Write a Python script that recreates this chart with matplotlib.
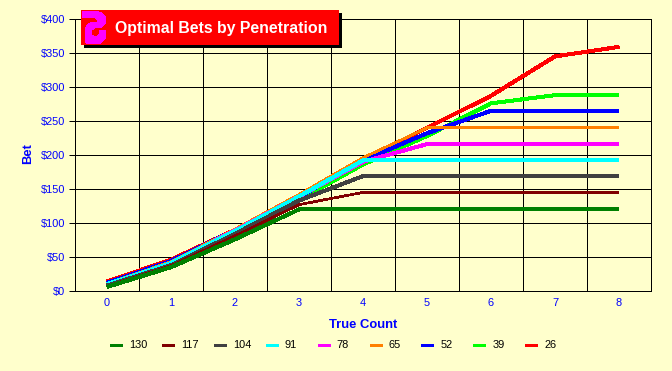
import matplotlib
matplotlib.use("Agg")
import matplotlib.pyplot as plt
from matplotlib.lines import Line2D
from matplotlib.patches import Polygon, Rectangle
from matplotlib.ticker import FuncFormatter
from matplotlib.transforms import Affine2D

plt.rcParams["font.family"] = ["Liberation Sans", "DejaVu Sans"]

BG = "#FFFFCC"
W, H = 672, 371

true_count = [0, 1, 2, 3, 4, 5, 6, 7, 8]
y_ticks = [0, 50, 100, 150, 200, 250, 300, 350, 400]

bet_130 = [6, 35, 76, 120, 120, 120, 120, 120, 120]
bet_117 = [7, 37, 81, 127, 145, 145, 145, 145, 145]
bet_104 = [8, 38, 84, 133, 169, 169, 169, 169, 169]
bet_91 = [10, 41, 88, 139, 192, 192, 192, 192, 192]
bet_78 = [10, 41, 89, 139, 190, 216, 216, 216, 216]
bet_65 = [11, 43, 91, 142, 196, 240, 240, 240, 240]
bet_52 = [12, 44, 90, 138, 192, 232, 265, 265, 265]
bet_39 = [9, 38, 86, 134, 186, 228, 276, 288, 288]
bet_26 = [14, 46, 90, 138, 193, 240, 287, 345, 359]

series = [
    ("130", bet_130, "#008000", 3),
    ("117", bet_117, "#800000", 1.7),
    ("104", bet_104, "#404040", 3),
    ("91", bet_91, "#00FFFF", 3),
    ("78", bet_78, "#FF00FF", 3),
    ("65", bet_65, "#FF8000", 1.7),
    ("52", bet_52, "#0000FF", 3),
    ("39", bet_39, "#00FF00", 3),
    ("26", bet_26, "#FF0000", 3),
]


def main():
    fig = plt.figure(figsize=(W / 100, H / 100), dpi=100, facecolor=BG)
    ax = fig.add_axes([75 / W, (H - 291) / H, 576 / W, 272 / H], facecolor=BG)

    # pixel coordinates with the origin top left, for the banner and legend
    px = Affine2D().scale(1, -1).translate(0, H)

    # last series goes down first, 130 ends up on top
    for name, values, color, width in reversed(series):
        ax.plot(true_count, values, color=color, lw=width * 0.72, aa=False,
                solid_capstyle="butt", solid_joinstyle="round", zorder=3)

    ax.set_xlim(-0.5, 8.5)
    ax.set_ylim(0, 400)
    ax.set_xticks(true_count)
    ax.set_xticks([c + 0.5 for c in true_count[:-1]], minor=True)
    ax.set_yticks(y_ticks)
    ax.yaxis.set_major_formatter(FuncFormatter(lambda v, pos: f"${v:.0f}"))

    ax.grid(True, which="major", axis="y", color="black", lw=0.72, aa=False, zorder=1)
    ax.grid(True, which="minor", axis="x", color="black", lw=0.72, aa=False, zorder=1)
    ax.set_axisbelow(True)

    ax.tick_params(axis="x", which="major", length=0, pad=5, labelsize=7.9, labelcolor="#0000FF")
    ax.tick_params(axis="x", which="minor", length=0)
    ax.tick_params(axis="y", length=4, width=0.72, pad=3, labelsize=7.9, labelcolor="#0000FF")

    for side in ["left", "bottom", "right", "top"]:
        ax.spines[side].set_linewidth(0.72)
        ax.spines[side].set_color("black")
        ax.spines[side].set_antialiased(False)

    ax.set_xlabel("True Count", color="#0000FF", fontweight="bold", fontsize=9.4)
    ax.xaxis.set_label_coords(363 / W, (H - 325) / H, transform=fig.transFigure)
    ax.xaxis.label.set_verticalalignment("center")
    ax.set_ylabel("Bet", color="#0000FF", fontweight="bold", fontsize=9.4)
    ax.yaxis.set_label_coords(28 / W, (H - 154) / H, transform=fig.transFigure)
    ax.yaxis.label.set_verticalalignment("center")

    # title banner
    fig.add_artist(Rectangle((84, 13), 258, 35, transform=px, fc="black", ec="none", aa=False))
    fig.add_artist(Rectangle((81, 10), 258, 35, transform=px, fc="#FF0000", ec="none", aa=False))
    icon = [(82, 11), (95, 11), (102, 13), (106, 18), (106, 23), (102, 27), (95, 28),
            (92, 30), (92, 35), (96, 37), (99, 34), (99, 30), (106, 30), (106, 37),
            (101, 43), (96, 44), (88, 44), (86, 43), (85, 29), (88, 24), (93, 22),
            (97, 22), (98, 20), (95, 18), (82, 18)]
    fig.add_artist(Polygon(icon, closed=True, transform=px, fc="#FF00FF", ec="none", aa=False))
    fig.add_artist(plt.Text(115, 28, "Optimal Bets by Penetration", transform=px, color="white",
                            fontweight="bold", fontsize=11.4, ha="left", va="center"))

    # legend, one fixed-width slot per series
    for i, (name, values, color, width) in enumerate(series):
        left = 110 + i * 51.9
        fig.add_artist(Line2D([left, left + 12], [345, 345], transform=px, color=color,
                              lw=2.16, aa=False, solid_capstyle="butt"))
        fig.add_artist(plt.Text(left + 19, 345, name, transform=px, color="black",
                                fontsize=7.9, ha="left", va="center"))

    fig.savefig("out.png", dpi=100, facecolor=BG)
    plt.close(fig)


if __name__ == "__main__":
    main()
